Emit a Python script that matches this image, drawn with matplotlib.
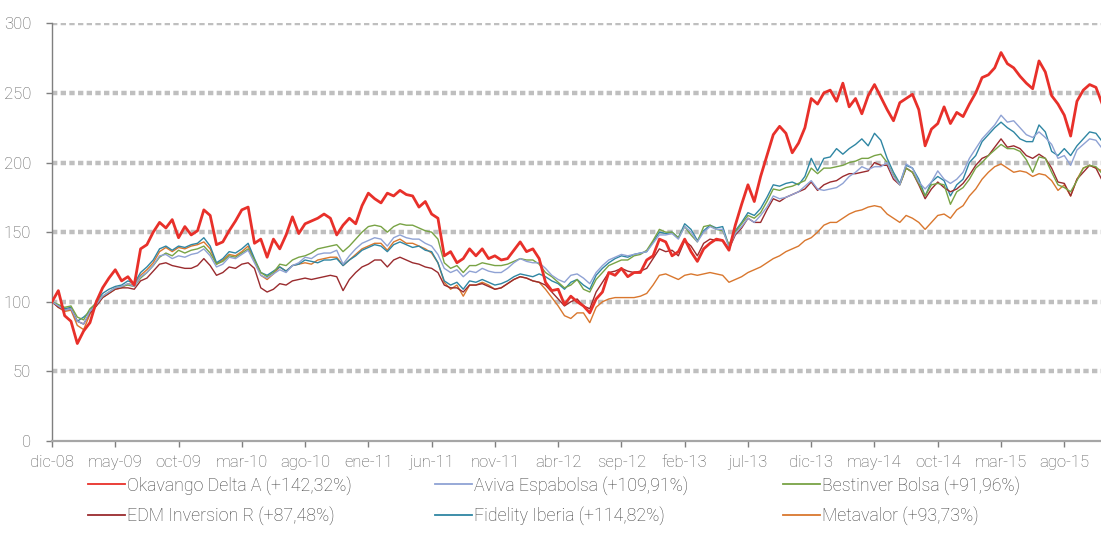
import numpy as np
import matplotlib
matplotlib.use("Agg")
import matplotlib.pyplot as plt
from matplotlib.lines import Line2D

# ---------------- data ----------------
# months since Dec-2008, half-month steps (0 .. 83)
months = np.arange(0, 83.5, 0.5)

tick_months = [0, 5, 10, 15, 20, 25, 30, 35, 40, 45, 50, 55, 60, 65, 70, 75, 80]
tick_labels = ["dic-08", "may-09", "oct-09", "mar-10", "ago-10", "ene-11", "jun-11",
               "nov-11", "abr-12", "sep-12", "feb-13", "jul-13", "dic-13", "may-14",
               "oct-14", "mar-15", "ago-15"]

okavango = [
    100, 108, 90, 86, 70, 79, 85, 100, 110, 117, 123, 115,
    118, 112, 138, 141, 150, 157, 153, 159, 146, 154, 148, 151,
    166, 162, 141, 143, 151, 158, 166, 168, 142, 145, 132, 145,
    138, 148, 161, 149, 156, 158, 160, 163, 160, 148, 155, 160,
    156, 169, 178, 174, 171, 178, 176, 180, 177, 176, 168, 172,
    163, 160, 133, 136, 128, 131, 138, 133, 138, 131, 133, 130,
    131, 137, 143, 136, 138, 131, 114, 108, 109, 98, 104, 100,
    97, 92, 102, 107, 121, 119, 124, 118, 121, 121, 130, 133,
    145, 143, 133, 136, 145, 136, 129, 138, 142, 145, 144, 137,
    155, 170, 184, 172, 190, 205, 220, 226, 221, 207, 214, 225,
    246, 242, 250, 252, 244, 257, 240, 246, 235, 248, 256, 247,
    238, 230, 243, 246, 249, 238, 212, 224, 228, 240, 228, 236,
    233, 242, 250, 261, 263, 268, 279, 271, 268, 262, 257, 253,
    273, 265, 248, 242, 234, 219, 244, 252, 256, 254, 242]

aviva = [
    100, 97, 94, 95, 86, 84, 93, 98, 104, 107, 110, 111,
    113, 111, 118, 121, 126, 133, 134, 131, 133, 132, 134, 135,
    138, 133, 125, 127, 132, 131, 134, 137, 128, 119, 117, 120,
    123, 121, 126, 128, 132, 131, 134, 135, 135, 137, 127, 133,
    138, 142, 144, 146, 145, 140, 146, 148, 146, 145, 145, 142,
    140, 134, 124, 121, 123, 118, 122, 121, 124, 122, 121, 121,
    124, 128, 131, 129, 128, 128, 124, 119, 116, 114, 119, 120,
    117, 113, 121, 126, 130, 132, 134, 133, 134, 135, 136, 142,
    148, 148, 149, 145, 154, 150, 143, 150, 154, 152, 152, 139,
    149, 154, 160, 157, 162, 168, 176, 174, 175, 177, 179, 183,
    187, 181, 180, 181, 182, 185, 190, 193, 197, 195, 197, 197,
    200, 190, 184, 199, 196, 186, 181, 186, 194, 188, 185, 188,
    193, 203, 210, 217, 222, 227, 234, 229, 230, 225, 220, 218,
    222, 218, 213, 203, 205, 198, 209, 213, 217, 216, 210]

bestinver = [
    100, 98, 96, 97, 89, 87, 95, 99, 104, 107, 110, 111,
    112, 111, 117, 121, 126, 132, 135, 133, 137, 135, 137, 138,
    140, 135, 127, 129, 133, 132, 135, 138, 130, 121, 118, 121,
    127, 126, 130, 132, 133, 135, 138, 139, 140, 141, 136, 140,
    145, 150, 154, 155, 154, 150, 154, 156, 155, 155, 153, 151,
    150, 145, 128, 124, 126, 121, 126, 126, 128, 127, 126, 126,
    127, 129, 131, 130, 130, 127, 121, 118, 114, 110, 112, 116,
    109, 107, 116, 121, 126, 128, 130, 130, 133, 134, 137, 144,
    152, 150, 150, 146, 154, 148, 143, 154, 155, 152, 151, 141,
    150, 156, 162, 160, 164, 172, 181, 180, 182, 183, 185, 187,
    196, 192, 196, 196, 197, 198, 200, 201, 203, 203, 205, 206,
    200, 191, 184, 196, 193, 185, 176, 184, 185, 184, 170, 179,
    182, 188, 196, 200, 205, 209, 213, 210, 210, 208, 202, 193,
    204, 203, 193, 184, 182, 179, 187, 196, 198, 197, 192]

edm = [
    100, 96, 94, 95, 86, 84, 92, 97, 103, 106, 109, 110,
    110, 109, 115, 117, 122, 127, 128, 126, 125, 124, 124, 126,
    131, 126, 119, 121, 125, 124, 127, 128, 124, 110, 107, 109,
    113, 112, 115, 116, 117, 116, 117, 118, 119, 118, 108, 116,
    121, 125, 127, 130, 130, 125, 130, 132, 130, 128, 127, 125,
    124, 121, 112, 110, 110, 107, 112, 112, 113, 111, 109, 110,
    113, 116, 118, 117, 115, 114, 112, 107, 102, 97, 100, 102,
    97, 95, 107, 114, 121, 122, 124, 122, 121, 122, 124, 131,
    138, 136, 137, 133, 144, 140, 133, 142, 145, 144, 144, 138,
    148, 153, 160, 157, 157, 166, 174, 172, 175, 177, 179, 181,
    186, 180, 184, 186, 187, 190, 192, 192, 193, 194, 200, 198,
    198, 188, 184, 196, 193, 184, 174, 181, 186, 182, 179, 181,
    185, 191, 198, 203, 205, 211, 217, 211, 212, 210, 205, 203,
    206, 203, 196, 186, 185, 176, 188, 193, 198, 196, 187]

fidelity = [
    100, 97, 95, 96, 86, 89, 93, 100, 106, 109, 111, 112,
    115, 113, 121, 125, 130, 138, 140, 137, 140, 139, 141, 142,
    146, 140, 128, 131, 136, 135, 138, 142, 131, 121, 119, 122,
    125, 122, 126, 127, 130, 129, 128, 130, 130, 131, 126, 130,
    133, 137, 139, 141, 140, 136, 141, 143, 141, 139, 140, 137,
    136, 128, 115, 112, 114, 109, 115, 114, 116, 114, 112, 113,
    115, 118, 120, 119, 118, 120, 118, 115, 113, 109, 114, 116,
    112, 109, 119, 124, 128, 131, 133, 132, 134, 135, 136, 143,
    150, 149, 150, 146, 156, 152, 144, 151, 155, 153, 154, 140,
    151, 157, 164, 162, 167, 175, 184, 183, 185, 186, 184, 190,
    203, 194, 203, 204, 210, 206, 210, 213, 217, 212, 221, 216,
    203, 193, 185, 198, 196, 188, 176, 186, 190, 187, 176, 184,
    188, 200, 205, 215, 220, 225, 229, 225, 222, 217, 215, 215,
    227, 222, 208, 205, 210, 205, 212, 217, 222, 221, 215]

metavalor = [
    100, 96, 93, 94, 83, 80, 91, 97, 103, 106, 109, 110,
    113, 112, 119, 123, 128, 136, 139, 136, 139, 138, 140, 141,
    143, 138, 127, 130, 134, 133, 136, 140, 130, 119, 116, 120,
    125, 122, 126, 127, 128, 127, 130, 131, 132, 132, 126, 130,
    134, 138, 140, 142, 142, 137, 143, 145, 142, 142, 140, 138,
    135, 128, 114, 109, 112, 104, 112, 112, 114, 112, 109, 110,
    113, 116, 118, 117, 115, 114, 109, 103, 97, 90, 88, 92,
    92, 85, 96, 100, 102, 103, 103, 103, 103, 104, 106, 112,
    119, 120, 118, 116, 119, 120, 119, 120, 121, 120, 119, 114,
    116, 118, 121, 123, 125, 128, 131, 133, 136, 138, 140, 144,
    146, 150, 155, 157, 157, 160, 163, 165, 166, 168, 169, 168,
    163, 160, 157, 162, 160, 157, 152, 157, 162, 163, 160, 166,
    169, 176, 181, 188, 193, 197, 199, 196, 193, 194, 193, 190,
    192, 191, 187, 180, 184, 176, 188, 196, 198, 196, 194]

series_names = ["Okavango Delta A (+142,32%)", "Aviva Espabolsa (+109,91%)",
                "Bestinver Bolsa (+91,96%)", "EDM Inversion R (+87,48%)",
                "Fidelity Iberia (+114,82%)", "Metavalor (+93,73%)"]
series_values = [okavango, aviva, bestinver, edm, fidelity, metavalor]
series_colors = ["#e8302a", "#8fa2d4", "#78a345", "#9a2b2e", "#2f86a3", "#d9772e"]
series_widths = [2.0, 1.0, 1.0, 1.0, 1.0, 1.0]

# ---------------- figure ----------------
plt.rcParams["font.family"] = ["Roboto", "DejaVu Sans"]
fig = plt.figure(figsize=(11.01, 5.49), dpi=100)
ax = fig.add_axes([52 / 1101, 1 - 441 / 549, 1 - 52 / 1101, (441 - 23.3) / 549])

draw_order = [5, 4, 3, 2, 1, 0]
for i in draw_order:
    ax.plot(months, series_values[i], color=series_colors[i],
            lw=series_widths[i], zorder=3 + (10 - i), solid_joinstyle="round")

ax.set_xlim(0, 82.9)
ax.set_ylim(0, 300)
ax.set_yticks(range(0, 301, 50))
ax.set_xticks(tick_months)
ax.set_xticklabels(tick_labels)

ax.grid(axis="y", color="#bfbfbf", lw=3.2, linestyle=(0, (1.2, 0.75)), zorder=1)
ax.yaxis.get_gridlines()[0].set_visible(False)
ax.set_axisbelow(True)

for s in ["top", "right"]:
    ax.spines[s].set_visible(False)
ax.spines["left"].set_color("#7f7f7f")
ax.spines["left"].set_linewidth(1.0)
ax.spines["bottom"].set_color("#a6a6a6")
ax.spines["bottom"].set_linewidth(1.6)

ax.tick_params(axis="y", length=4, width=1, color="#7f7f7f", pad=11,
               labelsize=12, labelcolor="#595959")
ax.tick_params(axis="x", length=4, width=1, color="#7f7f7f", pad=6,
               labelsize=12, labelcolor="#595959")
for t in ax.get_xticklabels() + ax.get_yticklabels():
    t.set_fontweight("light")

# legend: three columns of two entries
col_x = [88 / 1101, 435 / 1101, 783 / 1101]
col_items = [[0, 3], [1, 4], [2, 5]]
for cx, items in zip(col_x, col_items):
    handles = [Line2D([], [], color=series_colors[k], lw=1.3) for k in items]
    labels = [series_names[k] for k in items]
    fig.legend(handles, labels, loc="upper left",
               bbox_to_anchor=(cx, 1 - 476 / 549), frameon=False,
               borderpad=0, borderaxespad=0, handlelength=2.1,
               handletextpad=0.1, labelspacing=0.62,
               prop={"family": ["Roboto", "DejaVu Sans"], "size": 12.8,
                     "weight": "light"},
               labelcolor="#404040")

fig.savefig("out.png", dpi=100)
